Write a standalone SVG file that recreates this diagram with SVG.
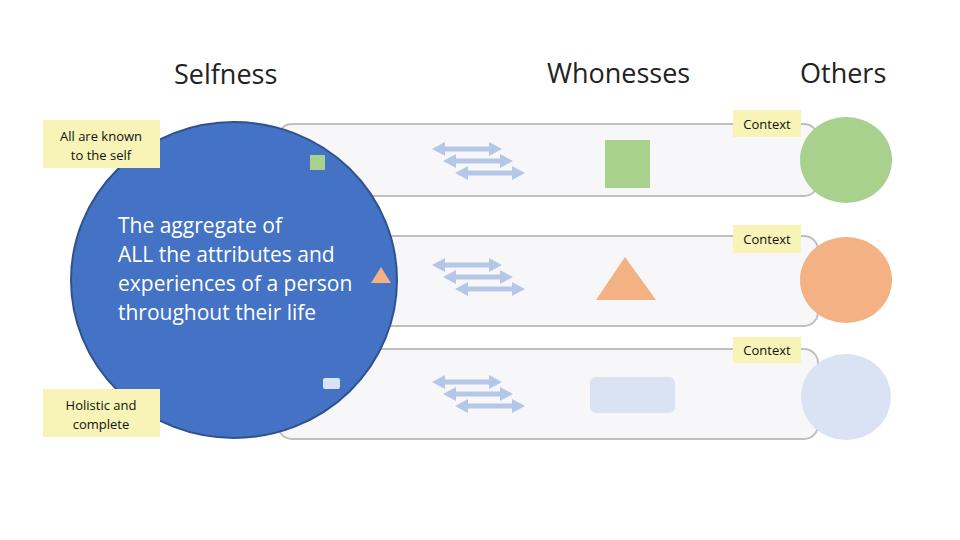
<svg xmlns="http://www.w3.org/2000/svg" xmlns:xlink="http://www.w3.org/1999/xlink" width="960" height="540" viewBox="0 0 960 540">
<style>
.lane{fill:#f7f7f9;stroke:#bfbfbf;stroke-width:2}
.title{font-family:"Open Sans","Noto Sans",sans-serif;font-size:27px;fill:#222}
.note{fill:#f8f3b7}
.notet{font-family:"Open Sans","Noto Sans",sans-serif;font-size:13px;fill:#111;text-anchor:middle}
.ctx{font-family:"Open Sans","Noto Sans",sans-serif;font-size:13px;fill:#111;text-anchor:middle}
.big{font-family:"Open Sans","Noto Sans",sans-serif;font-size:21px;fill:#fff}
.arr{fill:#b4c7e7}
</style>
<defs>
<path id="dbl" d="M0,0 L13,-7 L13,-2.5 L57,-2.5 L57,-7 L70,0 L57,7 L57,2.5 L13,2.5 L13,7 Z"/>
</defs>
<rect width="960" height="540" fill="#fff"/>
<g id="titles">
<text class="title" x="174" y="84">Selfness</text>
<text class="title" x="547" y="83">Whonesses</text>
<text class="title" x="800" y="83">Others</text>
</g>
<g id="lane1"><rect class="lane" x="278" y="124" width="540" height="72" rx="14"/></g>
<g id="lane2"><rect class="lane" x="278" y="236" width="540" height="90" rx="14"/></g>
<g id="lane3"><rect class="lane" x="278" y="349" width="540" height="90" rx="14"/></g>
<g id="self">
<ellipse cx="234" cy="280" rx="163" ry="158" fill="#4472c4" stroke="#2f528f" stroke-width="2"/>
<text class="big" x="118" y="233">The aggregate of</text>
<text class="big" x="118" y="262">ALL the attributes and</text>
<text class="big" x="118" y="291">experiences of a person</text>
<text class="big" x="118" y="320">throughout their life</text>
<rect x="310" y="155" width="15" height="15" fill="#a9d18e"/>
<polygon points="381,267 391,283 371,283" fill="#f4b183"/>
<rect x="323" y="378" width="17" height="11" rx="2" fill="#dae3f3"/>
</g>
<g id="note-known">
<rect class="note" x="43" y="120" width="117" height="48"/>
<text class="notet" x="101" y="141">All are known</text>
<text class="notet" x="101" y="160">to the self</text>
</g>
<g id="note-holistic">
<rect class="note" x="43" y="389" width="117" height="48"/>
<text class="notet" x="101" y="410">Holistic and</text>
<text class="notet" x="101" y="429">complete</text>
</g>
<g id="connectors" class="arr">
<use xlink:href="#dbl" x="432" y="149"/>
<use xlink:href="#dbl" x="443" y="161"/>
<use xlink:href="#dbl" x="455" y="173"/>
<use xlink:href="#dbl" x="432" y="265"/>
<use xlink:href="#dbl" x="443" y="277"/>
<use xlink:href="#dbl" x="455" y="289"/>
<use xlink:href="#dbl" x="432" y="382"/>
<use xlink:href="#dbl" x="443" y="394"/>
<use xlink:href="#dbl" x="455" y="406"/>
</g>
<g id="whoness1"><rect x="605" y="140" width="45" height="48" fill="#a9d18e"/></g>
<g id="whoness2"><polygon points="625,257 656,300 596,300" fill="#f4b183"/></g>
<g id="whoness3"><rect x="590" y="377" width="85" height="36" rx="6" fill="#dae3f3"/></g>
<g id="context1">
<rect class="note" x="733" y="110" width="68" height="27"/>
<text class="ctx" x="767" y="129">Context</text>
</g>
<g id="context2">
<rect class="note" x="733" y="225" width="68" height="28"/>
<text class="ctx" x="767" y="244">Context</text>
</g>
<g id="context3">
<rect class="note" x="733" y="337" width="68" height="26"/>
<text class="ctx" x="767" y="355">Context</text>
</g>
<g id="other1"><ellipse cx="846" cy="160" rx="46" ry="43" fill="#a9d18e"/></g>
<g id="other2"><ellipse cx="846" cy="280" rx="46" ry="43" fill="#f4b183"/></g>
<g id="other3"><ellipse cx="846" cy="397" rx="45" ry="43" fill="#dae3f3"/></g>
</svg>
